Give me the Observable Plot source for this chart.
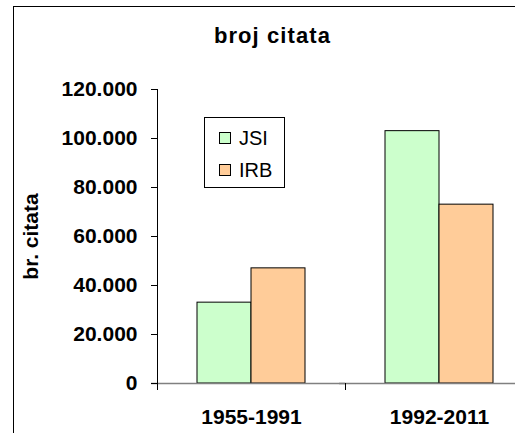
<!DOCTYPE html>
<html>
<head>
<meta charset="utf-8">
<script src="https://cdn.jsdelivr.net/npm/d3@7"></script>
<script src="https://cdn.jsdelivr.net/npm/@observablehq/plot@0.6"></script>
<style>
  html, body { margin: 0; padding: 0; background: #fff; overflow: hidden; }
  #wrap { position: relative; width: 515px; height: 433px; overflow: hidden; background: #fff;
          font-family: "Liberation Sans", Arial, sans-serif; color: #000; }
  #border { position: absolute; left: 13px; top: 6px; width: 700px; height: 700px;
            border-left: 1px solid #000; border-top: 1px solid #000; }
  #chart { position: absolute; left: 0; top: 0; width: 560px; height: 433px; }
  #chart svg { max-width: none !important; width: 560px; height: 433px; }
  #title { position: absolute; left: 0; width: 545px; top: 25px; text-align: center;
           font-size: 22px; line-height: 22px; font-weight: bold; letter-spacing: 1.1px; }
  #legend { position: absolute; left: 204px; top: 117px; width: 81px; height: 71px;
            box-sizing: border-box; border: 1px solid #000; background: #fff; }
  .sw { position: absolute; width: 12px; height: 12px; box-sizing: border-box; border: 1px solid #000; }
  .lt { position: absolute; font-size: 20px; line-height: 20px; }
</style>
</head>
<body>
<div id="wrap">
  <div id="border"></div>
  <div id="chart"></div>
  <div id="title">broj citata</div>
  <div id="legend"></div>
</div>
<script>
const periods = ["1955-1991", "1992-2011"];
const series = ["JSI", "IRB"];
const jsiValues = [33000, 103000];
const irbValues = [47000, 73000];
const yTicks = [0, 20000, 40000, 60000, 80000, 100000, 120000];
const seriesColors = ["#CCFFCC", "#FFCC99"];
const yLabel = "br. citata";

const data = [];
periods.forEach((p, i) => {
  data.push({period: p, series: series[0], value: jsiValues[i]});
  data.push({period: p, series: series[1], value: irbValues[i]});
});

const fmt = d => d3.format(",")(d).replace(/,/g, ".");

const W = 560, H = 433, mT = 89, mB = 50, mL = 157, mR = 27;
const innerH = H - mT - mB;

const chart = Plot.plot({
  width: W, height: H,
  marginLeft: mL, marginRight: mR, marginTop: mT, marginBottom: mB,
  style: {fontFamily: "'Liberation Sans', Arial, sans-serif", fontSize: "21px", fontWeight: "bold",
          color: "#000", background: "transparent", overflow: "visible", maxWidth: "none"},
  fx: {domain: periods, padding: 0, label: null, axis: null},
  x: {domain: series, paddingInner: 0, paddingOuter: 0.74, axis: null},
  y: {domain: [0, 120000], axis: null},
  color: {domain: series, range: seriesColors},
  marks: [
    Plot.barY(data, {fx: "period", x: "series", y: "value", fill: "series", stroke: "#000", strokeWidth: 1}),
    Plot.ruleY([0], {stroke: "#808080", strokeWidth: 1.3, insetLeft: -6}),
    Plot.frame({anchor: "left", facetAnchor: "left", stroke: "#000", insetBottom: -6}),
    Plot.frame({anchor: "left", stroke: "#000", insetTop: innerH, insetBottom: -6}),
    Plot.axisY({ticks: yTicks, tickFormat: fmt, tickSize: 6, tickPadding: 14, stroke: "#000",
                label: yLabel, labelAnchor: "center", labelOffset: 134, labelArrow: "none"}),
    Plot.axisFx({anchor: "bottom", tickSize: 0, tickPadding: 26, label: null})
  ]
});
chart.style.maxWidth = "none";
document.getElementById("chart").appendChild(chart);

const legend = document.getElementById("legend");
series.forEach((s, i) => {
  const sw = document.createElement("div");
  sw.className = "sw";
  sw.style.left = "14px";
  sw.style.top = (13.5 + i * 32) + "px";
  sw.style.background = seriesColors[i];
  legend.appendChild(sw);
  const t = document.createElement("div");
  t.className = "lt";
  t.style.left = "34px";
  t.style.top = (9.5 + i * 32) + "px";
  t.textContent = s;
  legend.appendChild(t);
});
</script>
</body>
</html>
